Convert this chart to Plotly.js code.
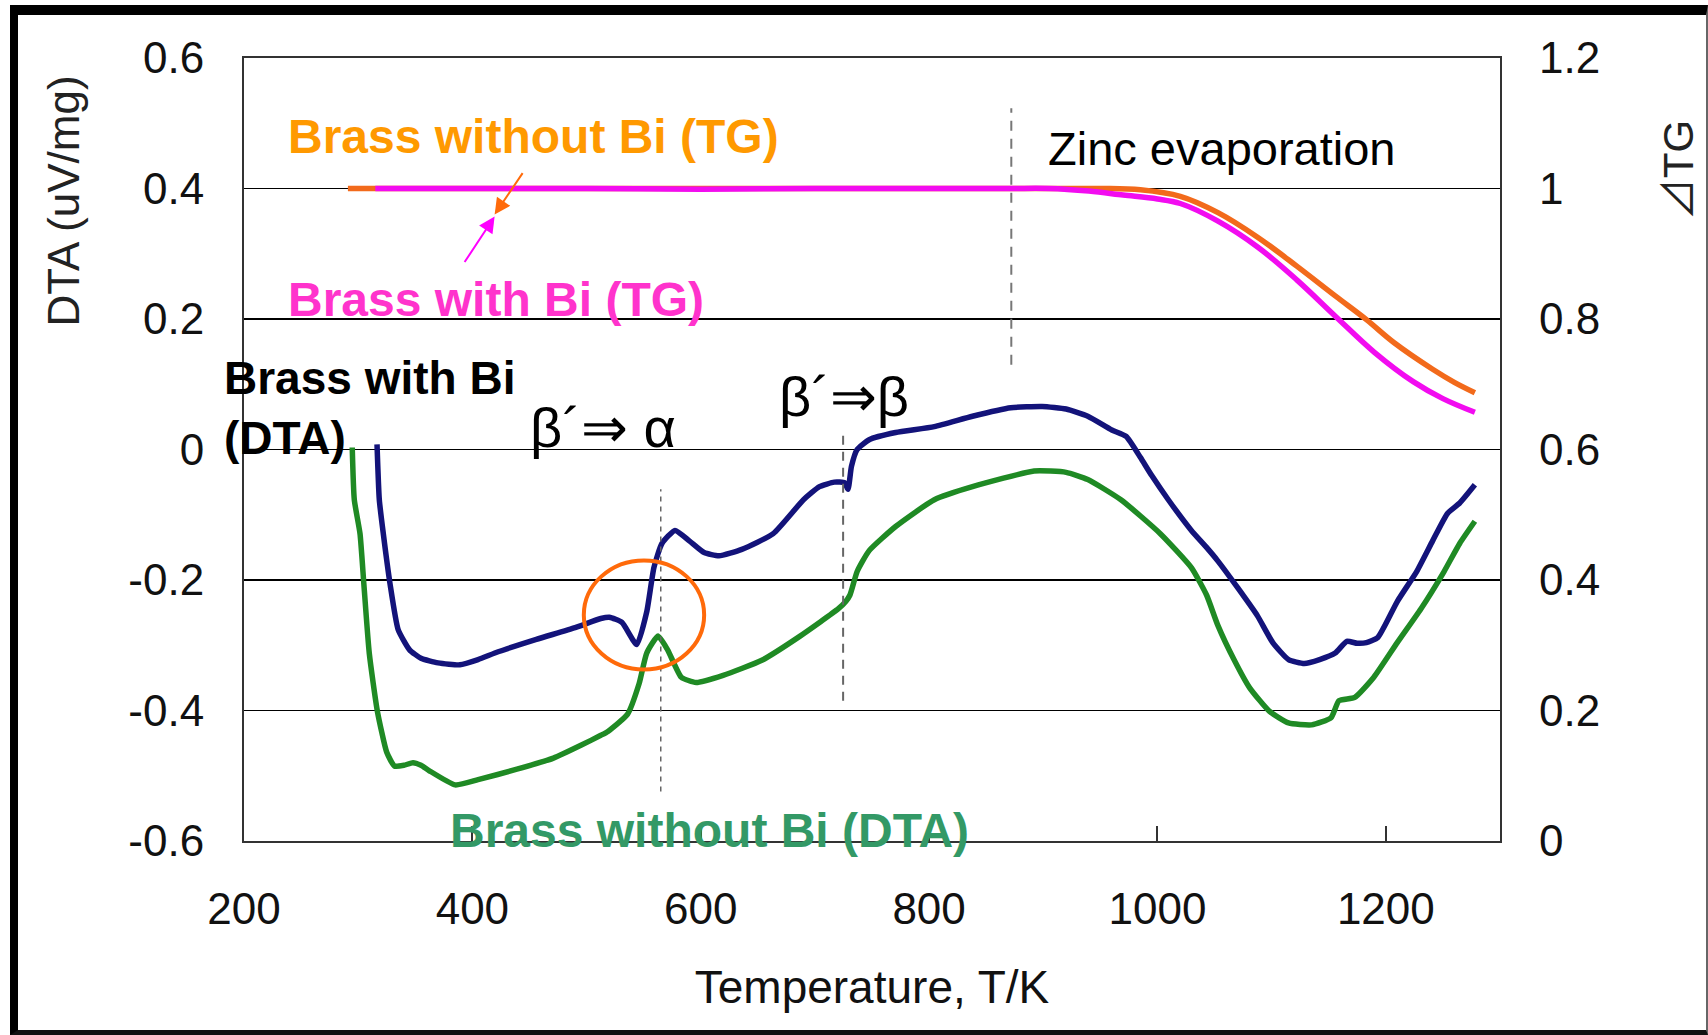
<!DOCTYPE html>
<html>
<head>
<meta charset="utf-8">
<script src="https://cdn.plot.ly/plotly-3.0.1.min.js"></script>
<style>
html,body{margin:0;padding:0;background:#fff;}
#chart{position:absolute;left:0;top:0;width:1708px;height:1035px;}
#frame{position:absolute;left:10px;top:5px;width:1698px;height:1030px;box-sizing:border-box;
  border-left:8px solid #000;border-top:10px solid #000;border-bottom:5px solid #111;border-right:2px solid #666;pointer-events:none;}
</style>
</head>
<body>
<div id="chart"></div>
<div id="frame"></div>
<script>
// ---------- data ----------
const xTicks = [200, 400, 600, 800, 1000, 1200];
const xTickLabels = ["200", "400", "600", "800", "1000", "1200"];
const dtaTicks = [-0.6, -0.4, -0.2, 0, 0.2, 0.4, 0.6];
const dtaTickLabels = ["-0.6", "-0.4", "-0.2", "0", "0.2", "0.4", "0.6"];
const tgTicks = [0, 0.2, 0.4, 0.6, 0.8, 1.0, 1.2];
const tgTickLabels = ["0", "0.2", "0.4", "0.6", "0.8", "1", "1.2"];

// TG, brass without Bi (right axis)
const tgNoBiT = [291, 350, 450, 550, 650, 750, 850, 900, 950, 985, 1020, 1053, 1088, 1122, 1156, 1183, 1207, 1241, 1260, 1278];
const tgNoBi  = [1.0, 1.0, 1.0, 1.0, 1.0, 1.0, 1.0, 1.0, 1.0, 0.998, 0.988, 0.963, 0.925, 0.881, 0.835, 0.799, 0.764, 0.723, 0.703, 0.687];

// TG, brass with Bi (right axis)
const tgBiT = [315, 400, 500, 600, 700, 800, 870, 905, 940, 970, 1000, 1020, 1053, 1088, 1122, 1156, 1190, 1224, 1250, 1278];
const tgBi  = [1.0, 1.0, 1.0, 0.999, 1.0, 1.0, 1.0, 1.0, 0.996, 0.99, 0.984, 0.977, 0.95, 0.91, 0.86, 0.804, 0.749, 0.704, 0.678, 0.657];

// DTA, brass with Bi (left axis)
const dtaBiT = [316.5, 318.5, 322, 328, 335, 345, 355, 370, 389, 405, 422.6, 456, 490, 512.5, 520, 531, 544, 552.7, 559, 566, 577.5, 590, 603, 616, 636, 663.5, 690, 704, 717, 726, 729, 732, 737, 747.5, 770.7, 804.6, 838, 871.6, 899, 920, 939, 960, 972.6, 985, 995, 1009.5, 1029.7, 1043, 1053, 1070.7, 1087.6, 1101, 1114.8, 1128.6, 1142, 1155.7, 1165.8, 1175, 1183, 1193, 1210, 1227, 1241, 1254, 1264.7, 1278];
const dtaBi  = [0.008, -0.077, -0.129, -0.207, -0.276, -0.307, -0.320, -0.327, -0.330, -0.322, -0.310, -0.291, -0.273, -0.259, -0.257, -0.265, -0.299, -0.249, -0.181, -0.144, -0.124, -0.140, -0.158, -0.163, -0.153, -0.129, -0.077, -0.057, -0.050, -0.051, -0.061, -0.026, 0.0, 0.015, 0.026, 0.035, 0.051, 0.064, 0.066, 0.062, 0.051, 0.03, 0.02, -0.012, -0.04, -0.077, -0.124, -0.150, -0.171, -0.213, -0.255, -0.296, -0.322, -0.328, -0.322, -0.312, -0.294, -0.297, -0.296, -0.288, -0.233, -0.187, -0.140, -0.098, -0.082, -0.054];

// DTA, brass without Bi (left axis)
const dtaNoBiT = [294.8, 296.6, 301.6, 305, 309.7, 316.8, 325, 331.7, 340, 348, 355, 362, 385, 405, 439, 471, 495.5, 512.5, 518.7, 535.8, 546, 552.7, 562.6, 571, 583, 596, 619.6, 653.5, 687, 720.6, 727, 730.7, 737, 747.5, 770.7, 804.6, 838, 892, 920, 939, 968, 1002.5, 1029.7, 1043, 1053, 1067, 1080.6, 1097.9, 1114.8, 1135, 1152, 1159, 1172.8, 1189.5, 1210, 1230.8, 1251, 1264.7, 1278];
const dtaNoBi  = [0.003, -0.077, -0.129, -0.207, -0.312, -0.401, -0.464, -0.485, -0.484, -0.480, -0.484, -0.492, -0.514, -0.506, -0.490, -0.473, -0.453, -0.438, -0.432, -0.406, -0.359, -0.312, -0.286, -0.307, -0.349, -0.357, -0.346, -0.323, -0.286, -0.244, -0.233, -0.223, -0.187, -0.155, -0.118, -0.077, -0.057, -0.033, -0.035, -0.046, -0.077, -0.129, -0.181, -0.223, -0.270, -0.322, -0.365, -0.401, -0.419, -0.422, -0.411, -0.385, -0.380, -0.349, -0.296, -0.244, -0.187, -0.144, -0.110];

// ---------- chart ----------
const FONT = "Liberation Sans, Arial, Helvetica, sans-serif";

const traces = [
  {x: dtaNoBiT, y: dtaNoBi, type: "scatter", mode: "lines", name: "Brass without Bi (DTA)",
   line: {color: "#1f8a24", width: 5.5, shape: "spline", smoothing: 0.5}, yaxis: "y"},
  {x: dtaBiT, y: dtaBi, type: "scatter", mode: "lines", name: "Brass with Bi (DTA)",
   line: {color: "#13137a", width: 5.5, shape: "spline", smoothing: 0.5}, yaxis: "y"},
  {x: tgNoBiT, y: tgNoBi, type: "scatter", mode: "lines", name: "Brass without Bi (TG)",
   line: {color: "#f26a1b", width: 5.5, shape: "spline"}, yaxis: "y2"},
  {x: tgBiT, y: tgBi, type: "scatter", mode: "lines", name: "Brass with Bi (TG)",
   line: {color: "#f20cf0", width: 5.5, shape: "spline"}, yaxis: "y2"}
];

const layout = {
  width: 1708, height: 1035,
  margin: {l: 244, r: 208, t: 58, b: 194, pad: 0},
  paper_bgcolor: "#fff", plot_bgcolor: "#fff",
  showlegend: false,
  font: {family: FONT, color: "#111", size: 44},
  xaxis: {
    range: [200, 1300], tickvals: xTicks, ticktext: xTickLabels,
    ticks: "inside", ticklen: 15, tickwidth: 2, tickcolor: "#333",
    showline: true, linecolor: "#333", linewidth: 2, mirror: true,
    showgrid: false, zeroline: false,
    tickfont: {family: FONT, size: 44, color: "#111"},
    ticklabelstandoff: 28,
    title: {text: "Temperature, T/K", font: {family: FONT, size: 46, color: "#111"}, standoff: 39}
  },
  yaxis: {
    range: [-0.6, 0.6], tickvals: dtaTicks, ticktext: dtaTickLabels,
    showgrid: true, gridcolor: "#000", gridwidth: 1.5,
    showline: true, linecolor: "#333", linewidth: 2, mirror: true,
    zeroline: false, ticks: "",
    tickfont: {family: FONT, size: 44, color: "#111"},
    ticklabelstandoff: 29
  },
  yaxis2: {
    overlaying: "y", side: "right",
    range: [0, 1.2], tickvals: tgTicks, ticktext: tgTickLabels,
    showgrid: false, zeroline: false, showline: false, ticks: "",
    tickfont: {family: FONT, size: 44, color: "#111"},
    ticklabelstandoff: 38
  },
  shapes: [
    {type: "line", xref: "x", yref: "y", x0: 872, x1: 872, y0: 0.13, y1: 0.523,
     line: {color: "#777", width: 2, dash: "10px,8px"}},
    {type: "line", xref: "x", yref: "y", x0: 565, x1: 565, y0: -0.524, y1: -0.061,
     line: {color: "#666", width: 1.5, dash: "5px,5px"}},
    {type: "line", xref: "x", yref: "y", x0: 724.7, x1: 724.7, y0: -0.385, y1: 0.031,
     line: {color: "#666", width: 2, dash: "9px,7px"}},
    {type: "circle", xref: "x", yref: "y", x0: 497.6, x1: 603, y0: -0.337, y1: -0.170,
     line: {color: "#ff6a0a", width: 4}}
  ],
  annotations: [
    {xref: "paper", yref: "paper", x: -0.144, y: 0.817, text: "DTA (uV/mg)", textangle: -90,
     showarrow: false, font: {family: FONT, size: 44, color: "#222"}, xanchor: "center", yanchor: "middle"},
    {xref: "paper", yref: "paper", x: 1.1395, y: 0.857,
     text: "<span style=\"font-family:'Noto Sans CJK JP'\">⊿</span>TG", textangle: -90,
     showarrow: false, font: {family: FONT, size: 42, color: "#222"}, xanchor: "center", yanchor: "middle"},
    {xref: "x", yref: "y", x: 236.9, y: 0.480, text: "<b>Brass without Bi (TG)</b>", showarrow: false,
     xanchor: "left", yanchor: "middle", font: {family: FONT, size: 48, color: "#ff9900"}},
    {xref: "x", yref: "y", x: 236.9, y: 0.230, text: "<b>Brass with Bi (TG)</b>", showarrow: false,
     xanchor: "left", yanchor: "middle", font: {family: FONT, size: 48, color: "#ff33cc"}},
    {xref: "paper", yref: "y", x: -0.0175, y: 0.063, text: "<b>Brass with Bi<br>(DTA)</b>", showarrow: false,
     xanchor: "left", yanchor: "middle", align: "left", font: {family: FONT, size: 46, color: "#000"}},
    {xref: "x", yref: "y", x: 379, y: -0.584, text: "<b>Brass without Bi (DTA)</b>", showarrow: false,
     xanchor: "left", yanchor: "middle", font: {family: FONT, size: 48, color: "#339966"}},
    {xref: "x", yref: "y", x: 514, y: 0.034, text: "β´⇒ α", showarrow: false,
     xanchor: "center", yanchor: "middle", font: {family: FONT, size: 56, color: "#000"}},
    {xref: "x", yref: "y", x: 725.9, y: 0.082, text: "β´⇒β", showarrow: false,
     xanchor: "center", yanchor: "middle", font: {family: FONT, size: 56, color: "#000"}},
    {xref: "x", yref: "y", x: 1056, y: 0.462, text: "Zinc evaporation", showarrow: false,
     xanchor: "center", yanchor: "middle", font: {family: FONT, size: 47, color: "#000"}},
    {xref: "x", yref: "y", x: 419.5, y: 0.360, text: "", showarrow: true, ax: 29, ay: -43,
     arrowhead: 2, arrowsize: 1.6, arrowwidth: 2, arrowcolor: "#ff6a0a", standoff: 0},
    {xref: "x", yref: "y", x: 419.5, y: 0.357, text: "", showarrow: true, ax: -31, ay: 47,
     arrowhead: 2, arrowsize: 1.6, arrowwidth: 2, arrowcolor: "#ff00ff", standoff: 0}
  ]
};

Plotly.newPlot("chart", traces, layout, {displayModeBar: false, staticPlot: true});
</script>
</body>
</html>
